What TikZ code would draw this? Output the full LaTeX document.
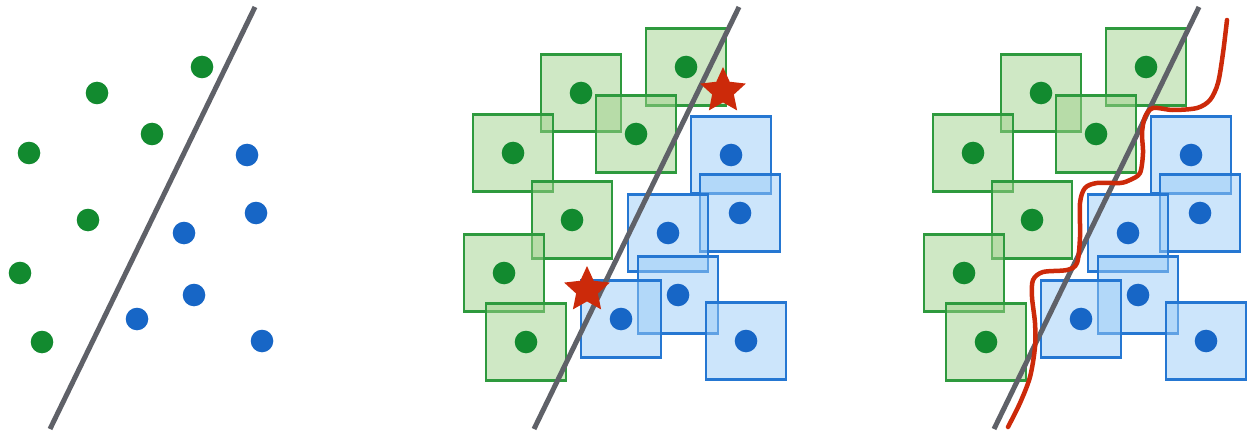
\documentclass[tikz,border=0pt]{standalone}
\usepackage{tikz}
\usetikzlibrary{shapes.geometric}
\definecolor{ptgreen}{HTML}{128A2F}
\definecolor{ptblue}{HTML}{1766C6}
\definecolor{boxgreen}{HTML}{2E9A3E}
\definecolor{boxblue}{HTML}{2577D2}
\definecolor{fillgreen}{HTML}{9FD18B}
\definecolor{fillblue}{HTML}{99CBF7}
\definecolor{sepgray}{HTML}{5F6168}
\definecolor{advred}{HTML}{CC2A0A}

% data points (pixel units, y down)
\newcommand{\greenpts}{202/67,97/93,152/134,29/153,88/220,20/273,42/342}
\newcommand{\bluepts}{247/155,256/213,184/233,194/295,137/319,262/341}

\tikzset{
  gbox/.style={draw=boxgreen, line width=2.6pt, fill=fillgreen, fill opacity=0.5},
  bbox/.style={draw=boxblue, line width=2.6pt, fill=fillblue, fill opacity=0.5},
  sepline/.style={sepgray, line width=5pt},
  advstar/.style={star, star points=5, star point ratio=2.1, fill=advred,
    minimum size=48pt, inner sep=0pt},
}

\begin{document}
\begin{tikzpicture}[x=1pt, y=-1pt]
\useasboundingbox (0,0) rectangle (1258,433);

% Panel 1: clean points
\begin{scope}
\foreach \x/\y in \greenpts \fill[ptgreen] (\x,\y) circle (11.3pt);
\foreach \x/\y in \bluepts \fill[ptblue] (\x,\y) circle (11.3pt);
\coordinate (top1) at (255,7);
\coordinate (bot1) at (50,429);
\draw[sepline] (top1) -- (bot1);
\end{scope}

% Panel 2: perturbation boxes, adversarial points
\begin{scope}[shift={(484,0)}]
\foreach \x/\y in \greenpts \draw[gbox] (\x-40,\y-38.5) rectangle (\x+40,\y+38.5);
\foreach \x/\y in \bluepts \draw[bbox] (\x-40,\y-38.5) rectangle (\x+40,\y+38.5);
\foreach \x/\y in \greenpts \fill[ptgreen] (\x,\y) circle (11.3pt);
\foreach \x/\y in \bluepts \fill[ptblue] (\x,\y) circle (11.3pt);
\coordinate (top2) at (255,7);
\coordinate (bot2) at (50,429);
\draw[sepline] (top2) -- (bot2);
\node[advstar] (adv1) at (239,91) {};
\node[advstar] (adv2) at (103,290) {};
\end{scope}

% Panel 3: robust boundary
\begin{scope}[shift={(944,0)}]
\foreach \x/\y in \greenpts \draw[gbox] (\x-40,\y-38.5) rectangle (\x+40,\y+38.5);
\foreach \x/\y in \bluepts \draw[bbox] (\x-40,\y-38.5) rectangle (\x+40,\y+38.5);
\foreach \x/\y in \greenpts \fill[ptgreen] (\x,\y) circle (11.3pt);
\foreach \x/\y in \bluepts \fill[ptblue] (\x,\y) circle (11.3pt);
\coordinate (top3) at (255,7);
\coordinate (bot3) at (50,429);
\draw[sepline] (top3) -- (bot3);
% wavy decision boundary
\draw[advred, line width=4.5pt, line cap=round] plot[smooth, tension=0.5] coordinates {
  (64,427) (76,403) (86,377) (91,347) (91,323) (88,297) (89,280) (99,272)
  (123,270) (133,263) (136,237) (136,203) (141,188) (153,183) (176,183)
  (186,180) (196,173) (199,153) (198,133) (201,117) (209,108) (229,110)
  (253,108) (266,100) (274,83) (279,53) (283,20)};
\end{scope}
\end{tikzpicture}
\end{document}
